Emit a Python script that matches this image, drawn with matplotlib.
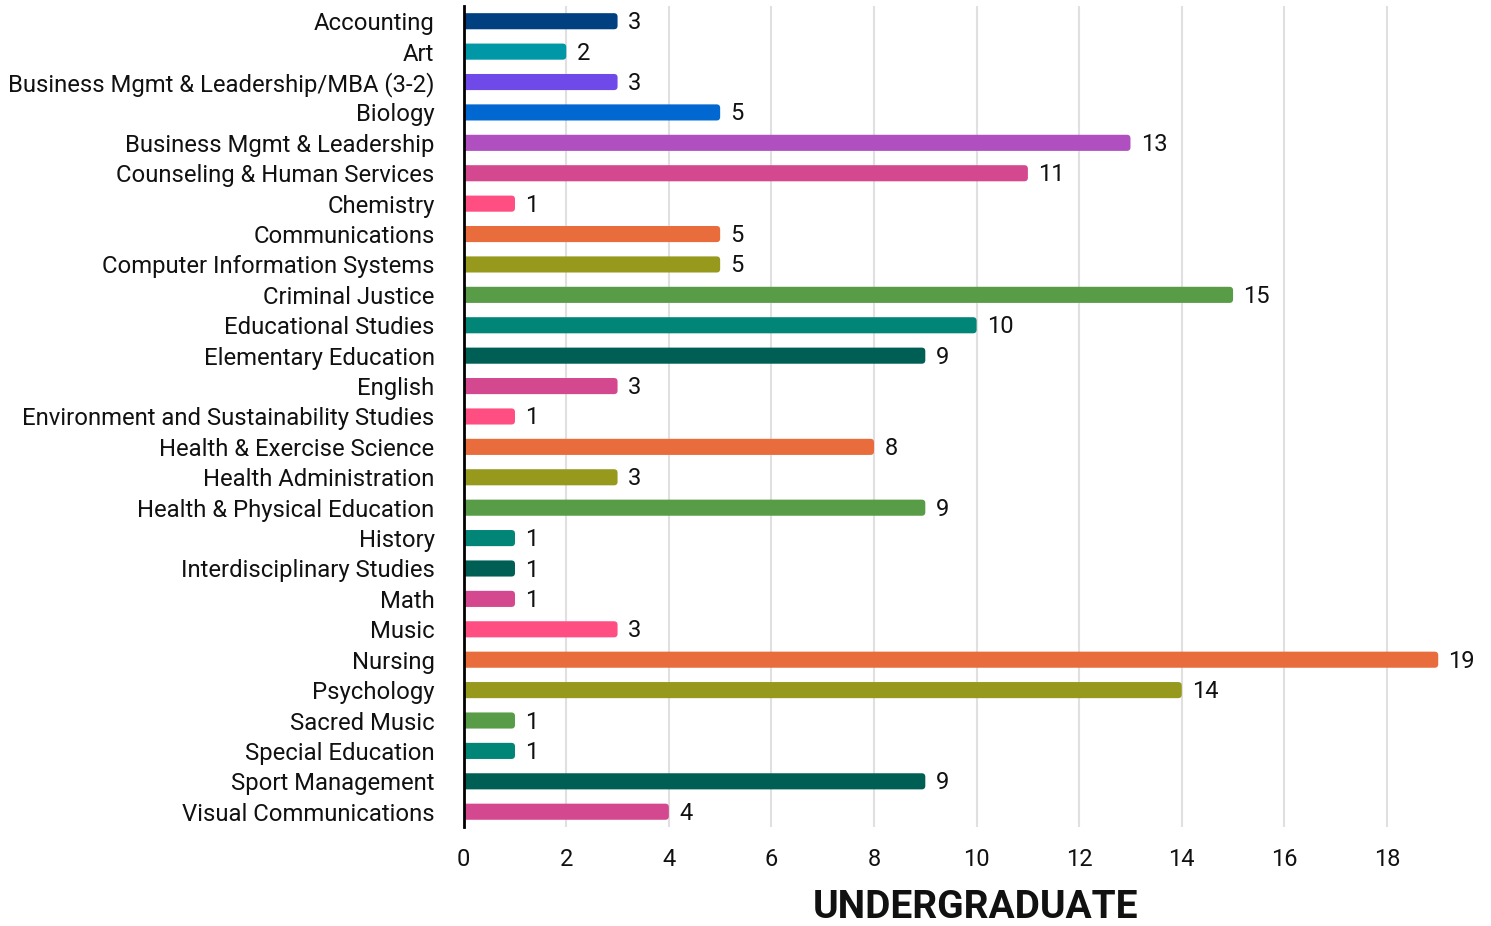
import numpy as np
import matplotlib.pyplot as plt
from matplotlib.patches import FancyBboxPatch

plt.rcParams['font.family'] = ['Roboto', 'DejaVu Sans']

programs = [
    'Accounting', 'Art', 'Business Mgmt & Leadership/MBA (3-2)', 'Biology',
    'Business Mgmt & Leadership', 'Counseling & Human Services', 'Chemistry',
    'Communications', 'Computer Information Systems', 'Criminal Justice',
    'Educational Studies', 'Elementary Education', 'English',
    'Environment and Sustainability Studies', 'Health & Exercise Science',
    'Health Administration', 'Health & Physical Education', 'History',
    'Interdisciplinary Studies', 'Math', 'Music', 'Nursing', 'Psychology',
    'Sacred Music', 'Special Education', 'Sport Management',
    'Visual Communications',
]
counts = [3, 2, 3, 5, 13, 11, 1, 5, 5, 15, 10, 9, 3, 1, 8, 3, 9, 1, 1, 1, 3,
          19, 14, 1, 1, 9, 4]
colors = [
    '#004080', '#0097a7', '#704ae8', '#0068d0', '#b04fc0', '#d4488f', '#ff4f82',
    '#e86c3c', '#96991c', '#589c48', '#008577', '#005f55', '#d4488f', '#ff4f82',
    '#e86c3c', '#96991c', '#589c48', '#008577', '#005f55', '#d4488f', '#ff4f82',
    '#e86c3c', '#96991c', '#589c48', '#008577', '#005f55', '#d4488f',
]

fig = plt.figure(figsize=(14.91, 9.26), dpi=100)
ax = fig.add_axes([0.311, 0.107, 0.688, 0.8865])

y = np.arange(len(programs))
h = 0.53
# bars with slightly rounded ends (left side clipped by the axis)
for yi, c, col in zip(y, counts, colors):
    ax.add_patch(FancyBboxPatch((-0.2, yi - h / 2), c + 0.2, h,
                                boxstyle='round,pad=0,rounding_size=0.07',
                                mutation_aspect=1.69, fc=col, ec='none', zorder=3))
    ax.text(c + 0.2, yi + 0.05, str(c), va='center', ha='left', fontsize=17, color='#111111')

ax.set_yticks(y)
ax.set_yticklabels(programs, fontsize=17.2, color='#111111')
ax.set_ylim(len(programs) - 0.5, -0.5)
ax.set_xlim(0, 20)
ax.set_xticks(np.arange(0, 20, 2))
ax.tick_params(axis='x', labelsize=17, length=0, pad=15, colors='#111111')
ax.tick_params(axis='y', length=0, pad=21)
ax.grid(axis='x', color='#e0e0e0', linewidth=1.5, zorder=0)

for s in ['top', 'right', 'bottom']:
    ax.spines[s].set_visible(False)
ax.spines['left'].set_linewidth(2)
ax.spines['left'].set_zorder(4)

fig.text(0.6545, 0.0205, 'UNDERGRADUATE', ha='center', va='center',
         fontsize=28, fontweight='bold', color='#111111')

fig.savefig('out.png', dpi=100)
